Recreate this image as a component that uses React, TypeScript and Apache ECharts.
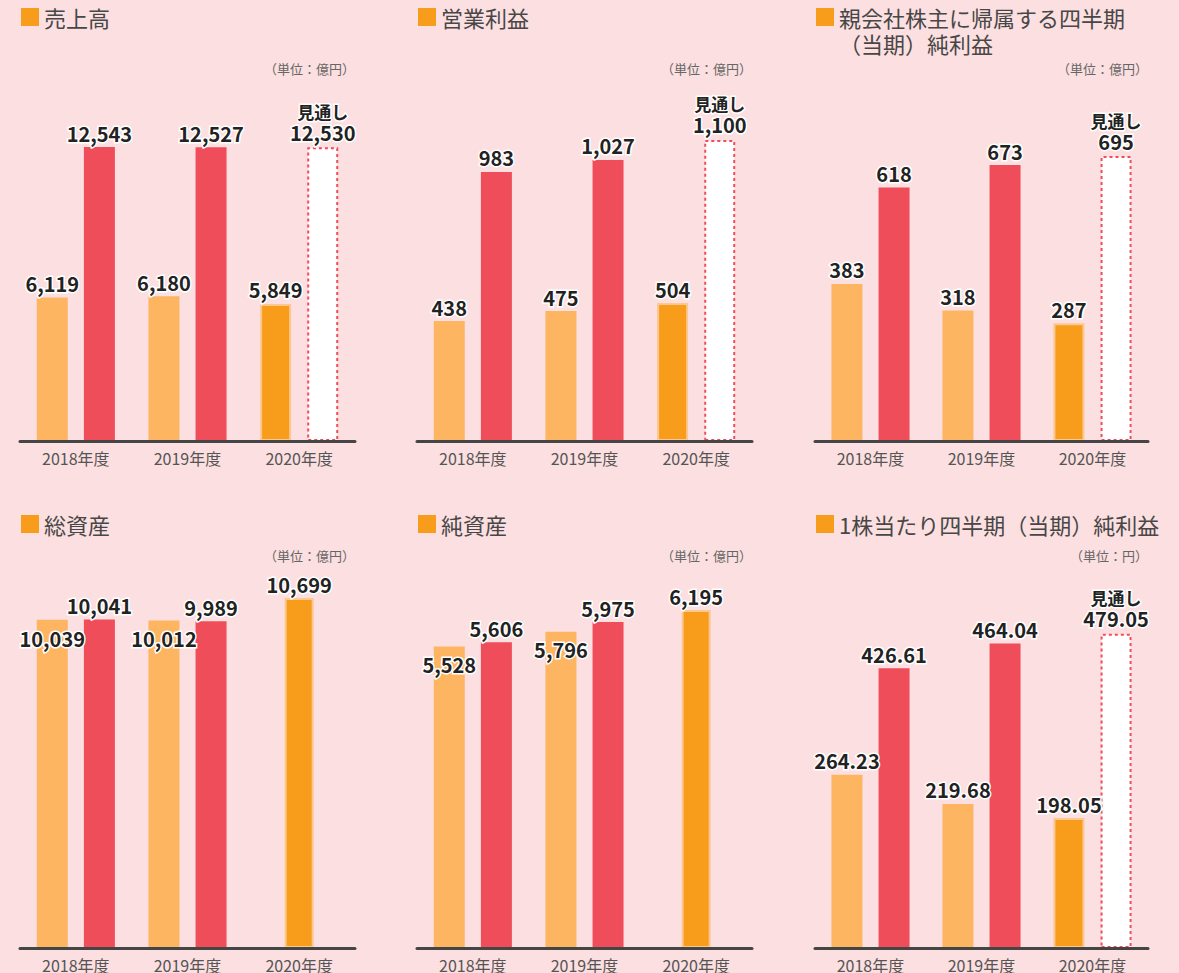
import React, { useEffect, useRef } from 'react';
import * as echarts from 'echarts';

// ---------- data ----------
const categories = ['2018年度', '2019年度', '2020年度'];
const titles = [
  '売上高',
  '営業利益',
  '親会社株主に帰属する四半期\n（当期）純利益',
  '総資産',
  '純資産',
  '1株当たり四半期（当期）純利益',
];
const units = ['（単位：億円）', '（単位：億円）', '（単位：億円）', '（単位：億円）', '（単位：億円）', '（単位：円）'];
const forecastWord = '見通し';
// first bar of each year (quarter / period-end)
const periodSales = [6119, 6180, 5849];
const periodOpIncome = [438, 475, 504];
const periodNetIncome = [383, 318, 287];
const periodAssets = [10039, 10012, 10699];
const periodNetAssets = [5528, 5796, 6195];
const periodEps = [264.23, 219.68, 198.05];
// second bar of each year (full year; 2020 = forecast)
const annualSales = [12543, 12527, 12530];
const annualOpIncome = [983, 1027, 1100];
const annualNetIncome = [618, 673, 695];
const annualAssets = [10041, 9989, null];
const annualNetAssets = [5606, 5975, null];
const annualEps = [426.61, 464.04, 479.05];
const decimals = [0, 0, 0, 0, 0, 2];

const periodValues = [periodSales, periodOpIncome, periodNetIncome, periodAssets, periodNetAssets, periodEps];
const annualValues = [annualSales, annualOpIncome, annualNetIncome, annualAssets, annualNetAssets, annualEps];

// ---------- layout ----------
const colLeft = [20, 417, 815];
const colWidth = [335, 335, 333];
const rowAxisY = [441, 949];
const rowTitleY = [17, 524];
const rowUnitY = [68, 555];
const yMax = [13000, 1150, 720, 11000, 6500, 500];
const pxPerUnit = [0.02344, 0.2737, 0.41, 0.0328, 0.0547, 0.658];
// label vertical shifts for crowded labels: [panel, index, dy]
const labelShift: [number, number, number][] = [
  [3, 0, 33],
  [3, 1, 32],
  [4, 0, 32],
  [4, 1, 32],
];

const C = {
  bg: '#fcdfe0',
  light: '#fdb562',
  red: '#ef4d5a',
  orange: '#f89c1c',
  glow: '#fdc88f',
  axis: '#454545',
  text: '#222',
  title: '#474747',
  unit: '#666',
  cat: '#555',
};
const FONT = '"Noto Sans CJK JP", "Noto Sans", sans-serif';

function fmt(v: number, d: number) {
  return d > 0 ? v.toFixed(d) : v.toLocaleString('en-US');
}

const baseLabel = {
  show: true,
  position: 'top',
  distance: 4,
  color: C.text,
  fontSize: 20,
  fontWeight: 'bold',
  fontFamily: FONT,
  textBorderColor: '#fff',
  textBorderWidth: 3,
};

function buildOption() {
  const grid: any[] = [];
  const xAxis: any[] = [];
  const yAxis: any[] = [];
  const series: any[] = [];
  const graphic: any[] = [];

  for (let i = 0; i < 6; i++) {
    const col = i % 3;
    const row = Math.floor(i / 3);
    const h = yMax[i] * pxPerUnit[i];
    const top = rowAxisY[row] - h;
    grid.push({ left: colLeft[col], width: colWidth[col], top, height: h, containLabel: false });
    const mainX = xAxis.length;
    xAxis.push({
      type: 'category',
      gridIndex: i,
      data: categories,
      axisLine: { show: true, lineStyle: { color: C.axis, width: 3 } },
      axisTick: { show: false },
      axisLabel: { color: C.cat, fontSize: 16, fontFamily: FONT, margin: 9 },
      z: 10,
    });
    yAxis.push({ type: 'value', gridIndex: i, min: 0, max: yMax[i], show: false, splitLine: { show: false } });

    const d = decimals[i];
    const pv = periodValues[i];
    const av = annualValues[i];
    const centered = av[2] == null;

    const pData = pv.map((v, k) => {
      if (k === 2) {
        if (centered) return '-';
        return {
          value: v,
          itemStyle: { color: C.orange, borderColor: C.glow, borderWidth: 2 },
        };
      }
      const sh = labelShift.find((s) => s[0] === i && s[1] === k);
      if (sh) return { value: v, label: { offset: [0, sh[2]] } };
      return v;
    });
    series.push({
      type: 'bar',
      xAxisIndex: mainX,
      yAxisIndex: i,
      barWidth: 31,
      barGap: '52%',
      itemStyle: { color: C.light },
      label: { ...baseLabel, formatter: (p: any) => fmt(p.value, d) },
      data: pData,
      z: 2,
    });

    const aData = av.map((v, k) => {
      if (v == null) return '-';
      if (k === 2) {
        return {
          value: v,
          itemStyle: { color: '#fff', borderColor: C.red, borderWidth: 2, borderType: [3, 3] },
          label: {
            ...baseLabel,
            formatter: `{a|${forecastWord}}\n{b|${fmt(v, d)}}`,
            rich: {
              a: { fontSize: 17, fontWeight: 'bold', lineHeight: 20, color: C.text, fontFamily: FONT, textBorderColor: '#fff', textBorderWidth: 3 },
              b: { fontSize: 20, fontWeight: 'bold', lineHeight: 22, color: C.text, fontFamily: FONT, textBorderColor: '#fff', textBorderWidth: 3 },
            },
          },
        };
      }
      return v;
    });
    series.push({
      type: 'bar',
      xAxisIndex: mainX,
      yAxisIndex: i,
      barWidth: 31,
      barGap: '52%',
      itemStyle: { color: C.red },
      label: { ...baseLabel, formatter: (p: any) => fmt(p.value, d) },
      data: aData,
      z: 2,
    });

    if (centered) {
      const extraX = xAxis.length;
      xAxis.push({ type: 'category', gridIndex: i, data: categories, show: false });
      series.push({
        type: 'bar',
        xAxisIndex: extraX,
        yAxisIndex: i,
        barWidth: 29,
        itemStyle: { color: C.orange, borderColor: C.glow, borderWidth: 2 },
        label: { ...baseLabel, formatter: (p: any) => fmt(p.value, d) },
        data: pv.map((v, k) => (k === 2 ? v : '-')),
        z: 2,
      });
    }

    // title square + title + unit
    const sx = colLeft[col] + 1;
    graphic.push({
      type: 'rect',
      shape: { x: sx, y: rowTitleY[row] - 9, width: 18, height: 18 },
      style: { fill: C.orange },
    });
    graphic.push({
      type: 'text',
      x: sx + 23,
      y: rowTitleY[row] - 13,
      style: {
        text: titles[i],
        fill: C.title,
        font: `22px ${FONT}`,
        lineHeight: 26,
        textVerticalAlign: 'top',
        textAlign: 'left',
      },
    });
    graphic.push({
      type: 'text',
      x: colLeft[col] + colWidth[col],
      y: rowUnitY[row],
      style: {
        text: units[i],
        fill: C.unit,
        font: `13px ${FONT}`,
        textAlign: 'right',
        textVerticalAlign: 'middle',
      },
    });
  }

  return {
    animation: false,
    backgroundColor: C.bg,
    grid,
    xAxis,
    yAxis,
    series,
    graphic,
  };
}

export default function App() {
  const ref = useRef<HTMLDivElement>(null);
  useEffect(() => {
    if (!ref.current) return;
    const chart = echarts.init(ref.current, undefined, { renderer: 'svg' });
    chart.setOption(buildOption() as any);
    return () => chart.dispose();
  }, []);
  return (
    <div
      ref={ref}
      style={{ position: 'absolute', left: 0, top: 0, width: 1179, height: 973, background: C.bg }}
    />
  );
}
